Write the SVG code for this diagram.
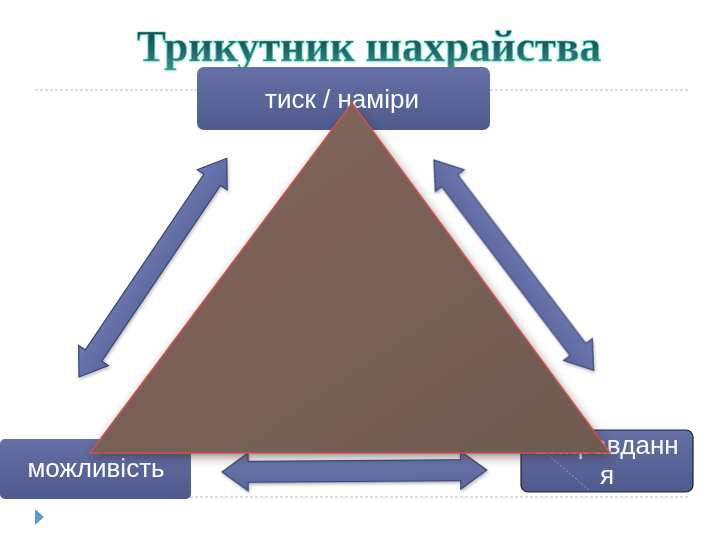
<svg xmlns="http://www.w3.org/2000/svg" width="720" height="540" viewBox="0 0 720 540">
  <defs>
    <linearGradient id="titleGrad" x1="0" y1="0" x2="0" y2="1">
      <stop offset="0" stop-color="#163f48"/>
      <stop offset="0.5" stop-color="#1f5f62"/>
      <stop offset="1" stop-color="#3f8f86"/>
    </linearGradient>
    <linearGradient id="boxGrad" x1="0" y1="0" x2="0" y2="1">
      <stop offset="0" stop-color="#6470a6"/>
      <stop offset="1" stop-color="#4f5b8d"/>
    </linearGradient>
    <linearGradient id="arrowGrad" x1="0" y1="0" x2="0" y2="1">
      <stop offset="0" stop-color="#6c79b0"/>
      <stop offset="1" stop-color="#5a669c"/>
    </linearGradient>
    <linearGradient id="triGrad" x1="0" y1="0" x2="1" y2="1">
      <stop offset="0" stop-color="#84665b"/>
      <stop offset="1" stop-color="#6e5a50"/>
    </linearGradient>
    <filter id="triShadow" x="-10%" y="-10%" width="120%" height="125%">
      <feDropShadow dx="2" dy="4" stdDeviation="5" flood-color="#3a2a25" flood-opacity="0.5"/>
    </filter>
    <filter id="softShadow" x="-10%" y="-10%" width="120%" height="130%">
      <feDropShadow dx="1" dy="2" stdDeviation="1.5" flood-color="#000" flood-opacity="0.25"/>
    </filter>
    <filter id="titleGlow" x="-5%" y="-20%" width="110%" height="140%">
      <feDropShadow dx="0" dy="1" stdDeviation="1" flood-color="#7fe0d0" flood-opacity="0.6"/>
    </filter>
    <path id="dblArrow" d="M0,0 L26,-18 L26,-10 L238,-10 L238,-18 L264,0 L238,18 L238,10 L26,10 L26,18 Z"/>
  </defs>
  <style>
    .title { font-family: "Liberation Serif", "DejaVu Serif", serif; font-weight: bold; font-size: 44px; fill: url(#titleGrad); stroke: #4cc8b8; stroke-width: 0.7px; }
    .box { fill: url(#boxGrad); }
    .label { font-family: "Liberation Sans", Arial, sans-serif; font-size: 26px; fill: #ffffff; text-anchor: middle; }
    .arrow { fill: url(#arrowGrad); stroke: #3b4572; stroke-width: 1.2; stroke-linejoin: miter; }
    .rule { stroke: #b8b8b8; stroke-width: 1; stroke-dasharray: 3 2; fill: none; }
  </style>

  <rect width="720" height="540" fill="#ffffff"/>

  <!-- dashed rules -->
  <line class="rule" x1="35" y1="90" x2="690" y2="90"/>
  <line class="rule" x1="35" y1="497" x2="690" y2="497"/>

  <!-- title -->
  <text class="title" x="369" y="61" text-anchor="middle" textLength="464" lengthAdjust="spacingAndGlyphs" filter="url(#titleGlow)">Трикутник шахрайства</text>

  <!-- connectors -->
  <g id="connectors" filter="url(#softShadow)">
    <use href="#dblArrow" class="arrow" transform="translate(79,377) rotate(-55.95)"/>
    <use href="#dblArrow" class="arrow" transform="translate(434,160) rotate(52.79)"/>
    <use href="#dblArrow" class="arrow" transform="translate(222,472) rotate(-0.43) scale(1.003,1.05)"/>
  </g>

  <!-- nodes -->
  <g id="node-pressure">
    <rect class="box" x="197" y="67" width="293" height="63" rx="7" ry="7"/>
    <text class="label" x="342" y="108">тиск / наміри</text>
  </g>

  <g id="node-opportunity">
    <rect class="box" x="0" y="439" width="191" height="60" rx="5" ry="5"/>
    <text class="label" x="96" y="477">можливість</text>
  </g>

  <g id="node-justification">
    <rect class="box" x="521" y="430" width="172" height="62" rx="7" ry="7" stroke="#1e2236" stroke-width="1.2"/>
    <line x1="545" y1="452" x2="590" y2="491" stroke="#9aa6cf" stroke-width="1" stroke-dasharray="2 2"/>
    <text class="label" x="607" y="454">виправданн</text>
    <text class="label" x="607" y="484">я</text>
  </g>

  <!-- triangle overlay -->
  <g id="fraud-triangle" filter="url(#triShadow)">
    <polygon points="352,103 610,453 90,453" fill="url(#triGrad)" stroke="#c9544e" stroke-width="1.6" stroke-linejoin="miter"/>
  </g>

  <!-- bullet -->
  <polygon points="35,509 44,517 35,525" fill="#5b9bd5"/>
</svg>
